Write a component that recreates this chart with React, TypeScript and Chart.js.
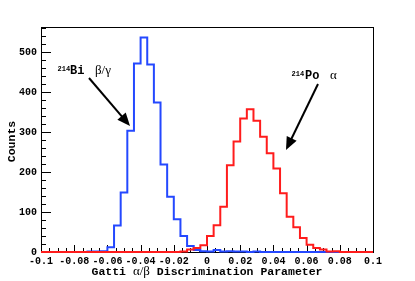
import React, { useEffect, useRef } from "react";
import { Chart, registerables } from "chart.js";
Chart.register(...registerables);

// Histogram binning (50 bins from -0.1 to 0.1)
const binLow = -0.1;
const binWidth = 0.004;

// 214Bi beta/gamma counts per bin
const biCounts = [
  0, 0, 0, 0, 0, 0, 0, 0, 1, 1,
  2, 12, 66, 149, 303, 471, 536, 469, 374, 219,
  138, 82, 40, 15, 5, 2, 1, 5, 1, 2,
  1, 1, 0, 1, 0, 0, 0, 0, 0, 0,
  0, 0, 0, 0, 0, 0, 0, 0, 0, 0,
];

// 214Po alpha counts per bin
const poCounts = [
  0, 0, 0, 0, 0, 0, 0, 0, 0, 0,
  0, 0, 0, 0, 0, 0, 0, 0, 0, 0,
  0, 0, 1, 6, 10, 17, 40, 67, 113, 217,
  276, 334, 357, 328, 288, 247, 209, 147, 88, 62,
  35, 18, 10, 6, 1, 2, 0, 0, 0, 0,
];

const xTickValues = [-0.1, -0.08, -0.06, -0.04, -0.02, 0, 0.02, 0.04, 0.06, 0.08, 0.1];
const xTickLabels = ["-0.1", "-0.08", "-0.06", "-0.04", "-0.02", "0", "0.02", "0.04", "0.06", "0.08", "0.1"];
const xMinorStep = 0.005;
const yTickValues = [0, 100, 200, 300, 400, 500];
const yTickLabels = ["0", "100", "200", "300", "400", "500"];
const yMinorStep = 20;
const yMax = 562.5;

const MONO = "'Liberation Mono', 'DejaVu Sans Mono', monospace";
const SERIF = "'Liberation Serif', 'DejaVu Serif', serif";

function toSteps(counts: number[]) {
  const pts = counts.map((c, i) => ({ x: binLow + i * binWidth, y: c }));
  pts.push({ x: binLow + counts.length * binWidth, y: counts[counts.length - 1] });
  return pts;
}

function drawArrow(ctx: CanvasRenderingContext2D, x1: number, y1: number, x2: number, y2: number) {
  const ang = Math.atan2(y2 - y1, x2 - x1);
  const len = 13;
  const hw = 5.5;
  const bx = x2 - len * Math.cos(ang);
  const by = y2 - len * Math.sin(ang);
  ctx.save();
  ctx.strokeStyle = "#000";
  ctx.fillStyle = "#000";
  ctx.lineWidth = 2;
  ctx.beginPath();
  ctx.moveTo(x1, y1);
  ctx.lineTo(bx + 3 * Math.cos(ang), by + 3 * Math.sin(ang));
  ctx.stroke();
  ctx.beginPath();
  ctx.moveTo(x2, y2);
  ctx.lineTo(bx + hw * Math.sin(ang), by - hw * Math.cos(ang));
  ctx.lineTo(bx - hw * Math.sin(ang), by + hw * Math.cos(ang));
  ctx.closePath();
  ctx.fill();
  ctx.restore();
}

const framePlugin = {
  id: "rootFrame",
  beforeDatasetsDraw(chart: any) {
    const { ctx, chartArea } = chart;
    const { left, right, top, bottom } = chartArea;
    const xs = chart.scales.x;
    const ys = chart.scales.y;
    ctx.save();
    ctx.strokeStyle = "#000";
    ctx.lineWidth = 1;
    ctx.strokeRect(left + 0.5, top + 0.5, right - left, bottom - top);
    ctx.beginPath();
    // y ticks (inside)
    for (let v = 0; v <= yMax; v += yMinorStep) {
      const py = Math.round(ys.getPixelForValue(v)) + 0.5;
      const major = v % 100 === 0;
      const len = major ? 10 : 5;
      ctx.moveTo(left, py);
      ctx.lineTo(left + len, py);
    }
    // x ticks (inside)
    const n = Math.round((0.1 - binLow) / xMinorStep);
    for (let k = 0; k <= n; k++) {
      const v = binLow + k * xMinorStep;
      const px = Math.round(xs.getPixelForValue(v)) + 0.5;
      const len = k % 4 === 0 ? 7 : 4;
      ctx.moveTo(px, bottom);
      ctx.lineTo(px, bottom - len);
    }
    ctx.stroke();
    ctx.restore();
  },
  afterDraw(chart: any) {
    const { ctx, chartArea } = chart;
    const { left, right, top, bottom } = chartArea;
    ctx.save();
    ctx.fillStyle = "#000";
    ctx.textBaseline = "alphabetic";
    ctx.textAlign = "left";

    // X axis title with mixed fonts
    const segs: [string, string][] = [
      ["Gatti ", `bold 11.5px ${MONO}`],
      ["\u03b1/\u03b2", `13px ${SERIF}`],
      [" Discrimination Parameter", `bold 11.5px ${MONO}`],
    ];
    let total = 0;
    for (const [t, f] of segs) {
      ctx.font = f;
      total += ctx.measureText(t).width;
    }
    let cx = (left + right) / 2 - total / 2;
    for (const [t, f] of segs) {
      ctx.font = f;
      ctx.fillText(t, cx, 275);
      cx += ctx.measureText(t).width;
    }

    // Y axis title
    ctx.save();
    ctx.translate(15, (top + bottom) / 2 + 2);
    ctx.rotate(-Math.PI / 2);
    ctx.textAlign = "center";
    ctx.font = `bold 11.5px ${MONO}`;
    ctx.fillText("Counts", 0, 0);
    ctx.restore();

    // 214Bi annotation
    ctx.font = `bold 7px ${MONO}`;
    ctx.fillText("214", 57.5, 71);
    ctx.font = `bold 12px ${MONO}`;
    ctx.fillText("Bi", 70, 74);
    ctx.font = `13px ${SERIF}`;
    ctx.fillText("\u03b2/\u03b3", 95, 74);
    drawArrow(ctx, 89, 78, 130, 126);

    // 214Po annotation
    ctx.font = `bold 7px ${MONO}`;
    ctx.fillText("214", 291.5, 76);
    ctx.font = `bold 12px ${MONO}`;
    ctx.fillText("Po", 305, 79);
    ctx.font = `13px ${SERIF}`;
    ctx.fillText("\u03b1", 330, 79);
    drawArrow(ctx, 318, 84, 286, 150);

    ctx.restore();
  },
};

export default function App() {
  const canvasRef = useRef<HTMLCanvasElement | null>(null);

  useEffect(() => {
    if (!canvasRef.current) return;
    const chart = new Chart(canvasRef.current, {
      type: "line",
      data: {
        datasets: [
          {
            label: "214Po alpha",
            data: toSteps(poCounts),
            borderColor: "#ff1c1c",
            borderWidth: 2,
            stepped: "after",
            pointRadius: 0,
            fill: false,
            borderJoinStyle: "miter",
            clip: 2,
            order: 0,
          },
          {
            label: "214Bi beta/gamma",
            data: toSteps(biCounts),
            borderColor: "#2448ff",
            borderWidth: 2,
            stepped: "after",
            pointRadius: 0,
            fill: false,
            borderJoinStyle: "miter",
            clip: 2,
            order: 1,
          },
        ],
      } as any,
      options: {
        animation: false,
        responsive: false,
        events: [],
        layout: { padding: { left: 0, right: 42, top: 27, bottom: 0 } },
        plugins: { legend: { display: false }, tooltip: { enabled: false }, title: { display: false } },
        scales: {
          x: {
            type: "linear",
            min: -0.1,
            max: 0.1,
            afterBuildTicks: (s: any) => {
              s.ticks = xTickValues.map((v) => ({ value: v }));
            },
            afterFit: (s: any) => {
              s.height = 29;
            },
            grid: { display: false, drawTicks: false },
            border: { display: false },
            ticks: {
              autoSkip: false,
              maxRotation: 0,
              minRotation: 0,
              padding: 3,
              color: "#000",
              font: { family: MONO, weight: "bold", size: 10 },
              callback: (_v: any, i: number) => xTickLabels[i],
            },
          },
          y: {
            type: "linear",
            min: 0,
            max: yMax,
            afterBuildTicks: (s: any) => {
              s.ticks = yTickValues.map((v) => ({ value: v }));
            },
            afterFit: (s: any) => {
              s.width = 41;
            },
            grid: { display: false, drawTicks: false },
            border: { display: false },
            ticks: {
              padding: 4,
              color: "#000",
              font: { family: MONO, weight: "bold", size: 10 },
              callback: (_v: any, i: number) => yTickLabels[i],
            },
          },
        },
      } as any,
      plugins: [framePlugin],
    });
    return () => chart.destroy();
  }, []);

  return (
    <div style={{ position: "fixed", left: 0, top: 0, width: 415, height: 281, background: "#fff" }}>
      <canvas ref={canvasRef} width={415} height={281} style={{ display: "block", width: 415, height: 281 }} />
    </div>
  );
}
